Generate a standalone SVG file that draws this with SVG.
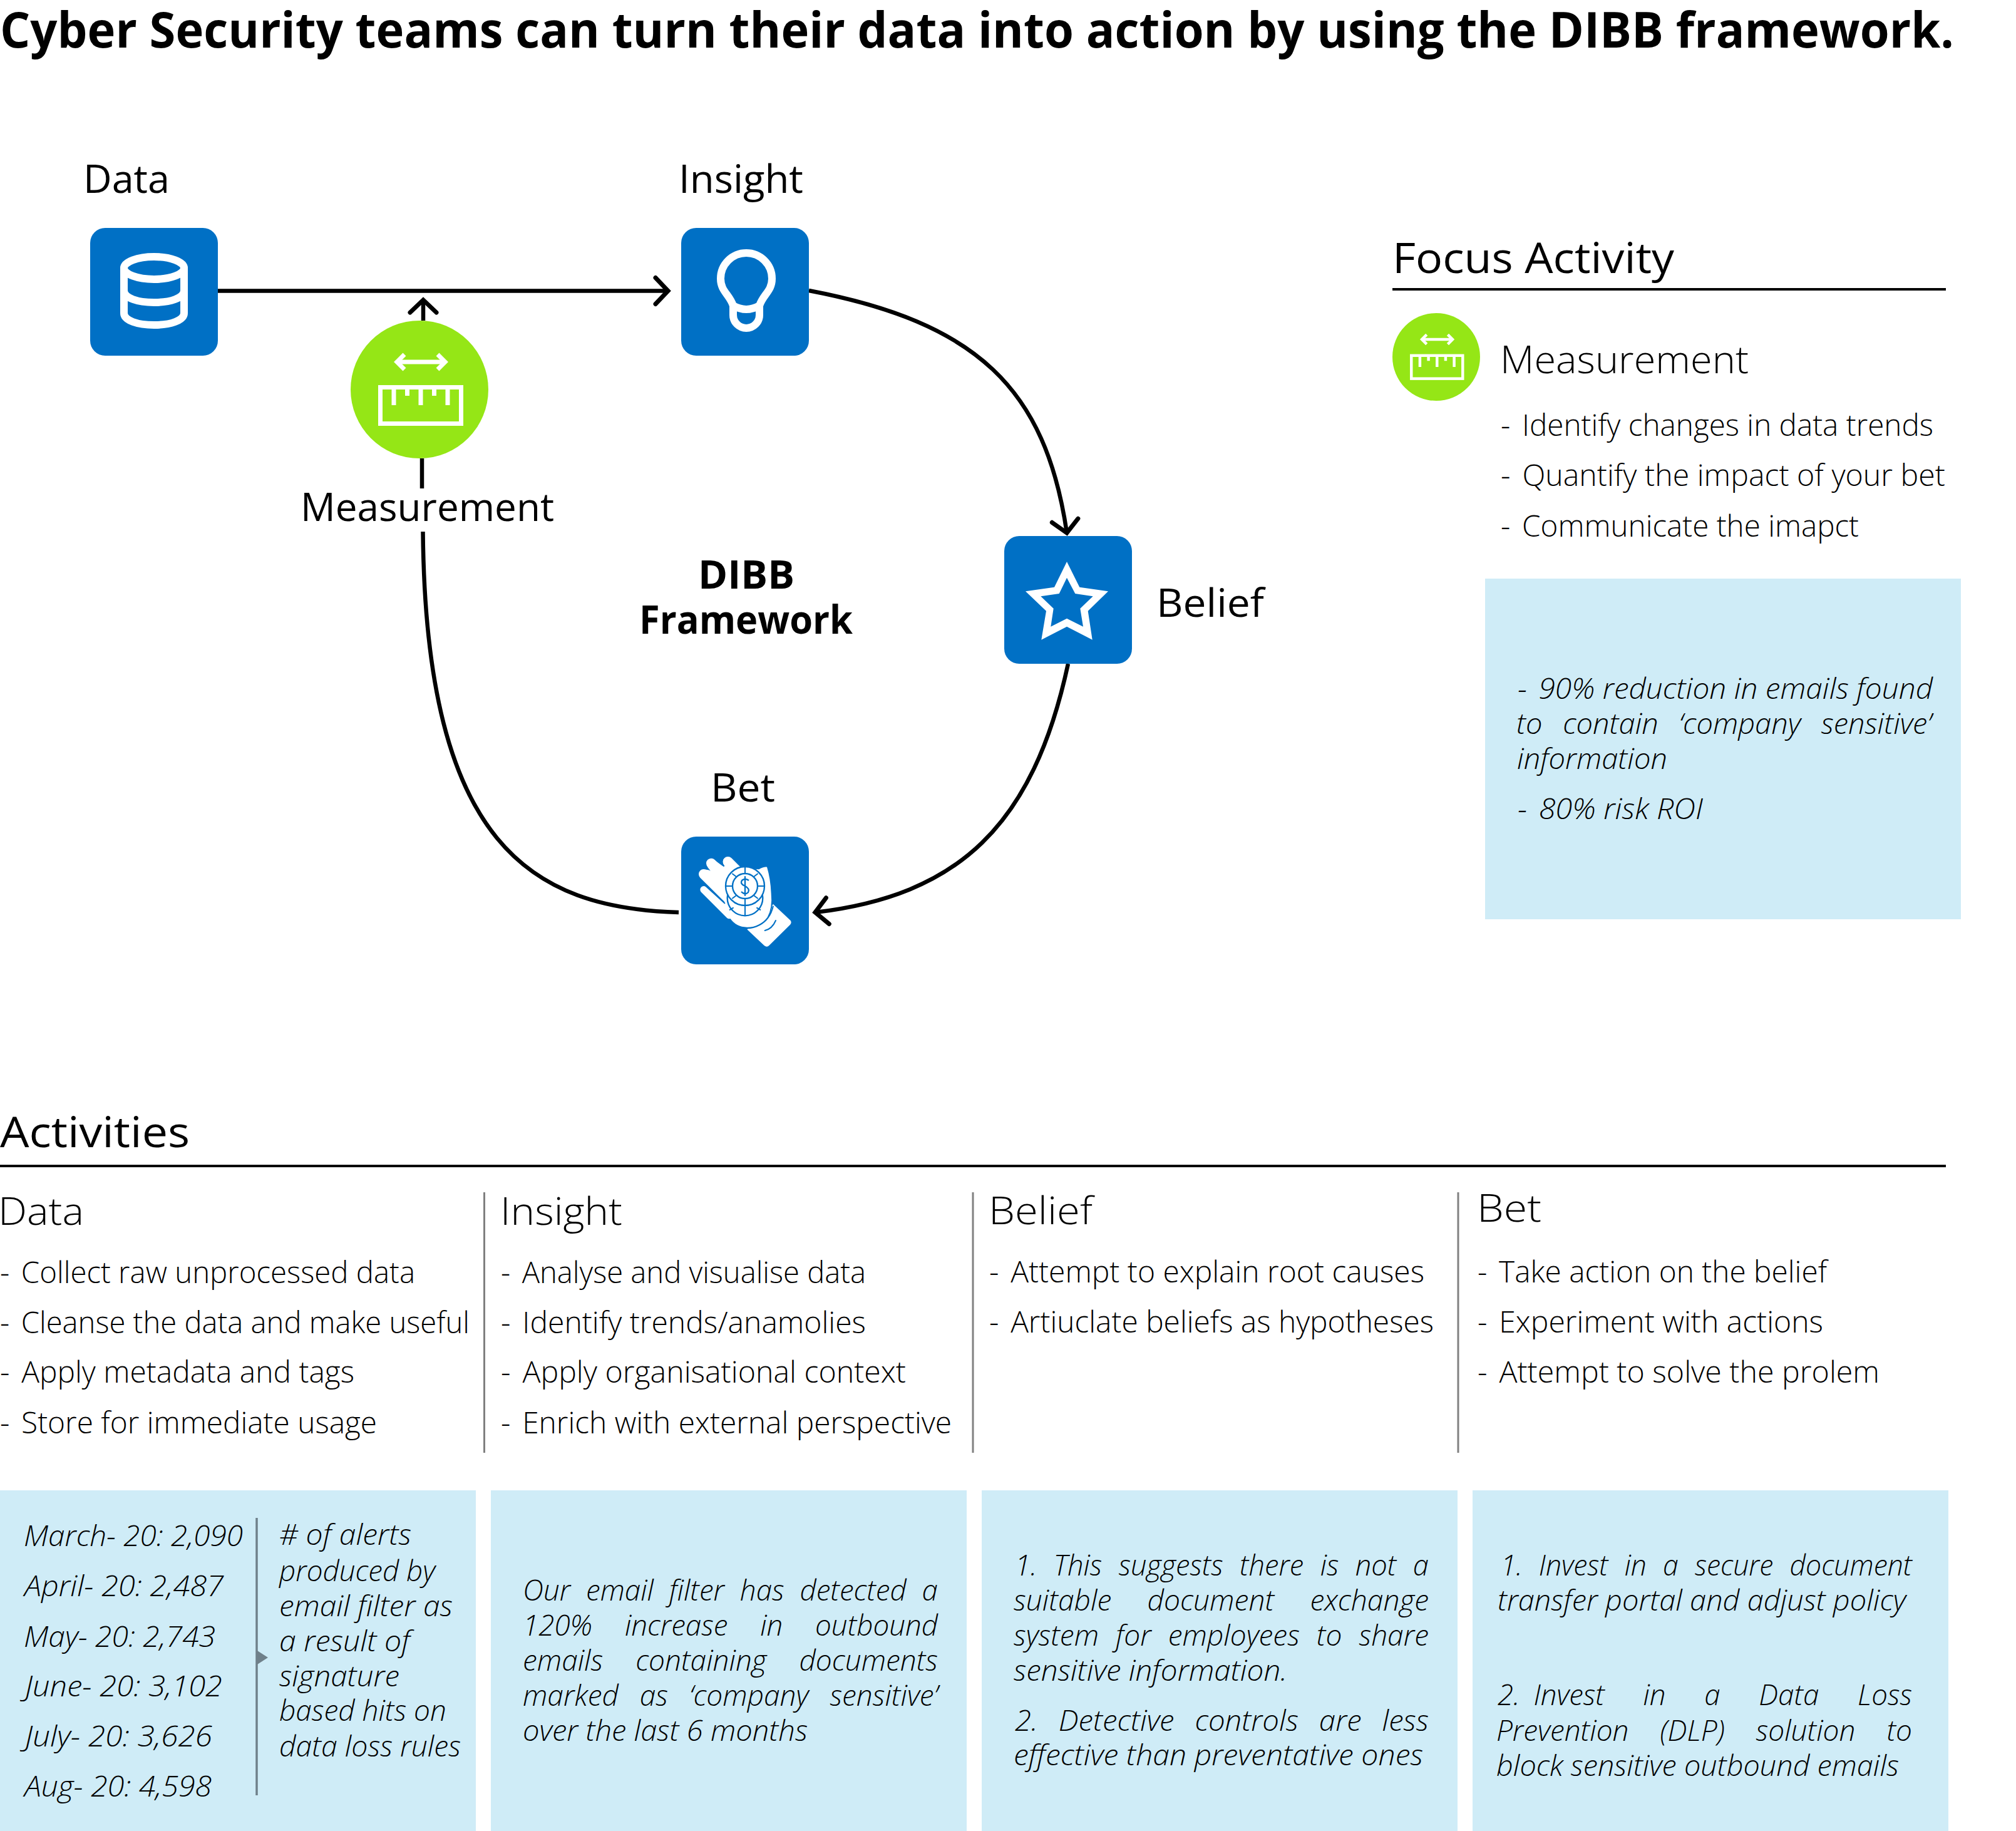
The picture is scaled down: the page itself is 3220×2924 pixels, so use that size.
<svg xmlns="http://www.w3.org/2000/svg" width="3220" height="2924" viewBox="0 0 3220 2924">
<style>
text{font-family:"Open Sans","Noto Sans","Liberation Sans",sans-serif;fill:#000;white-space:pre;font-weight:300}
.title{font-size:78px;font-weight:700}
.bold{font-size:62px;font-weight:700}
.lab{font-size:62px;font-weight:400}
.h1{font-size:68px;font-weight:400}
.h2{font-size:60px}
.it{font-size:47px}
.em{font-size:46px;font-style:italic}
.d{letter-spacing:-2px}
.tile{fill:#0070c5}
.disc{fill:#95e616}
.panel{fill:#cfecf7}
.rule{stroke:#000;stroke-width:4;fill:none}
.div{stroke:#808080;stroke-width:3;fill:none}
.ic{fill:none;stroke:#fff;stroke-width:12;stroke-linecap:round;stroke-linejoin:round}
.con{fill:none;stroke:#000;stroke-width:6.5}
.arr{marker-end:url(#chev)}
</style>
<defs>
<marker id="chev" markerUnits="userSpaceOnUse" markerWidth="50" markerHeight="60" viewBox="-30 -30 40 60" refX="0" refY="0" orient="auto">
<path d="M-20 -21L0 0L-20 21" fill="none" stroke="#000" stroke-width="7" stroke-linecap="round"/>
</marker>
<g id="ruler" fill="none" stroke="#fff" stroke-width="7">
<rect x="607.5" y="618.5" width="129" height="58"/>
<path d="M629 620V647M650.500 620V632M672 620V647M693.500 620V632M715 620V647"/>
<path d="M635 578H710"/>
<path d="M646 566L634 578L646 590M699 566L711 578L699 590" stroke-width="7"/>
</g>
</defs>
<rect width="3220" height="2924" fill="#fff"/>
<text id="title" class="title" x="0" y="76" textLength="3121" lengthAdjust="spacingAndGlyphs">Cyber Security teams can turn their data into action by using the DIBB framework.</text>
<g id="connectors">
<path class="con arr" d="M348 464.500H1067"/>
<path class="con arr" d="M1292 464C1560 515 1670 620 1704 851"/>
<path class="con arr" d="M1706 1060C1650 1320 1530 1430 1302 1457"/>
<path class="con" d="M1084 1457C850 1450 680 1350 675.500 849"/>
<path class="con" d="M674 732V780"/>
<path class="con arr" d="M676 512V479"/>
</g>
<g id="node-data">
<text class="lab" x="133" y="308" textLength="138" lengthAdjust="spacingAndGlyphs">Data</text>
<rect class="tile" x="144" y="364" width="204" height="204" rx="24"/>
<g class="ic"><ellipse cx="246" cy="428" rx="48" ry="18"/><path d="M198 428V500C198 512 220 519 246 519C272 519 294 512 294 500V428M198 464C198 476 220 483 246 483C272 483 294 476 294 464"/></g>
</g>
<g id="node-insight">
<text class="lab" x="1084" y="308" textLength="199" lengthAdjust="spacingAndGlyphs">Insight</text>
<rect class="tile" x="1088" y="364" width="204" height="204" rx="24"/>
<path class="ic" stroke-width="13" d="M1171 488C1165 470 1151 465 1151 445A41 41 0 0 1 1233 445C1233 465 1219 470 1213 488M1171 488V503A21 21 0 0 0 1213 503V488M1171 488Q1192 500 1213 488"/>
</g>
<g id="node-belief">
<rect class="tile" x="1604" y="856" width="204" height="204" rx="24"/>
<path fill="#fff" fill-rule="evenodd" d="M1704 897L1724.300 937.700L1770 944.300L1737.700 975.700L1744.700 1021.700L1704 1000.700L1663.300 1021.700L1671 975.700L1638 944.300L1684 937.700ZM1704 922.700L1691.700 948L1662.300 952.300L1682.700 971.700L1678.300 1000.700L1704 987.700L1730 1000.700L1725.300 971.700L1745.700 952.300L1717.300 948Z"/>
<text class="lab" x="1847" y="985" textLength="172" lengthAdjust="spacingAndGlyphs">Belief</text>
</g>
<g id="node-bet">
<text class="lab" x="1135" y="1280" textLength="103" lengthAdjust="spacingAndGlyphs">Bet</text>
<rect class="tile" x="1088" y="1336" width="204" height="204" rx="24"/>
<g transform="translate(1050 1300) scale(.33333)">
<path fill="#fff" d="M555 432L638 510Q645 520 636 530L535 630Q525 640 512 630L430 553Z"/>
<path fill="#fff" stroke="#0070c5" stroke-width="6" d="M207 372Q200 350 222 346L345 500Q375 545 430 545Q495 545 530 495Q555 450 548 380Q545 310 527 250Q505 250 485 262L395 255L360 220Q335 195 315 215Q305 235 320 250L280 222Q255 205 238 225Q228 245 245 265Q225 258 205 275Q193 295 210 310L320 420L235 345Q215 340 207 358Z"/>
<path fill="none" stroke="#fff" stroke-width="48" stroke-linecap="round" d="M338 228L400 290M258 236L350 325M222 288L335 400"/>
<path fill="none" stroke="#fff" stroke-width="34" stroke-linecap="round" d="M222 362L345 485"/>
<path fill="none" stroke="#0070c5" stroke-width="6" stroke-linecap="round" d="M232 345L322 427"/>
<path fill="none" stroke="#0070c5" stroke-width="6" d="M555 440Q540 510 480 535Q455 548 430 547"/>
<path fill="none" stroke="#0070c5" stroke-width="6" stroke-linecap="round" d="M515 558Q550 550 567 510"/>
<circle cx="420" cy="402" r="85" fill="#fff" stroke="#0070c5" stroke-width="7"/>
<path fill="none" stroke="#0070c5" stroke-width="6" d="M420 430V487M365 448L345 460M475 448L495 460M370 425Q420 450 470 425"/>
<circle cx="420" cy="345" r="93" fill="#fff" stroke="#0070c5" stroke-width="7"/>
<circle cx="420" cy="345" r="60" fill="#fff" stroke="#0070c5" stroke-width="7"/>
<path fill="none" stroke="#0070c5" stroke-width="6" d="M420 252V285M420 405V438M327 345H360M480 345H513M358 285L378 300M482 285L462 300M358 405L378 390M482 405L462 390"/>
<path fill="none" stroke="#0070c5" stroke-width="7" d="M438 318Q420 305 405 318Q395 335 420 345Q445 358 435 375Q420 390 402 372M420 298V392"/>
</g>
</g>
<g id="node-measurement">
<circle class="disc" cx="670" cy="622" r="110"/>
<use href="#ruler"/>
<text class="lab" x="480" y="832" textLength="405" lengthAdjust="spacingAndGlyphs">Measurement</text>
</g>
<g id="framework-label">
<text class="bold" x="1115" y="940" textLength="154" lengthAdjust="spacingAndGlyphs">DIBB</text>
<text class="bold" x="1021" y="1012" textLength="341" lengthAdjust="spacingAndGlyphs">Framework</text>
</g>
<g id="focus-activity">
<text class="h1" x="2224" y="436" textLength="450" lengthAdjust="spacingAndGlyphs">Focus Activity</text>
<path class="rule" d="M2224 462H3108"/>
<circle class="disc" cx="2294" cy="570" r="70"/>
<use href="#ruler" transform="translate(2294 570) scale(.636) translate(-670 -622)"/>
<text class="h2" x="2396" y="596" textLength="397" lengthAdjust="spacingAndGlyphs">Measurement</text>
<text class="it" x="2397" y="696" textLength="691" lengthAdjust="spacingAndGlyphs"><tspan class="d">-  </tspan>Identify changes in data trends</text>
<text class="it" x="2397" y="776" textLength="710" lengthAdjust="spacingAndGlyphs"><tspan class="d">-  </tspan>Quantify the impact of your bet</text>
<text class="it" x="2397" y="857" textLength="572" lengthAdjust="spacingAndGlyphs"><tspan class="d">-  </tspan>Communicate the imapct</text>
<rect class="panel" x="2372" y="924" width="760" height="544"/>
<text class="em" x="2424" y="1116" textLength="663" lengthAdjust="spacingAndGlyphs"><tspan class="d">-  </tspan>90% reduction in emails found</text>
<text class="em" x="2422" y="1172" textLength="663" lengthAdjust="spacingAndGlyphs" word-spacing="20">to contain ‘company sensitive’</text>
<text class="em" x="2423" y="1228" textLength="240" lengthAdjust="spacingAndGlyphs">information</text>
<text class="em" x="2424" y="1308" textLength="296" lengthAdjust="spacingAndGlyphs"><tspan class="d">-  </tspan>80% risk ROI</text>
</g>
<g id="activities">
<text class="h1" x="0" y="1832" textLength="303" lengthAdjust="spacingAndGlyphs">Activities</text>
<path class="rule" d="M0 1862H3108"/>
<path class="div" d="M773.500 1904V2320M1554 1904V2320M2329 1904V2320"/>
<g id="col-data">
<text class="h2" x="-3" y="1956" textLength="137" lengthAdjust="spacingAndGlyphs">Data</text>
<text class="it" x="0" y="2049" textLength="663" lengthAdjust="spacingAndGlyphs"><tspan class="d">-  </tspan>Collect raw unprocessed data</text>
<text class="it" x="0" y="2129" textLength="750" lengthAdjust="spacingAndGlyphs"><tspan class="d">-  </tspan>Cleanse the data and make useful</text>
<text class="it" x="0" y="2208" textLength="566" lengthAdjust="spacingAndGlyphs"><tspan class="d">-  </tspan>Apply metadata and tags</text>
<text class="it" x="0" y="2289" textLength="602" lengthAdjust="spacingAndGlyphs"><tspan class="d">-  </tspan>Store for immediate usage</text>
</g>
<g id="col-insight">
<text class="h2" x="799" y="1956" textLength="195" lengthAdjust="spacingAndGlyphs">Insight</text>
<text class="it" x="800" y="2049" textLength="583" lengthAdjust="spacingAndGlyphs"><tspan class="d">-  </tspan>Analyse and visualise data</text>
<text class="it" x="800" y="2129" textLength="583" lengthAdjust="spacingAndGlyphs"><tspan class="d">-  </tspan>Identify trends/anamolies</text>
<text class="it" x="800" y="2208" textLength="647" lengthAdjust="spacingAndGlyphs"><tspan class="d">-  </tspan>Apply organisational context</text>
<text class="it" x="800" y="2289" textLength="720" lengthAdjust="spacingAndGlyphs"><tspan class="d">-  </tspan>Enrich with external perspective</text>
</g>
<g id="col-belief">
<text class="h2" x="1579" y="1955" textLength="166" lengthAdjust="spacingAndGlyphs">Belief</text>
<text class="it" x="1580" y="2048" textLength="695" lengthAdjust="spacingAndGlyphs"><tspan class="d">-  </tspan>Attempt to explain root causes</text>
<text class="it" x="1580" y="2128" textLength="710" lengthAdjust="spacingAndGlyphs"><tspan class="d">-  </tspan>Artiuclate beliefs as hypotheses</text>
</g>
<g id="col-bet">
<text class="h2" x="2359" y="1951" textLength="103" lengthAdjust="spacingAndGlyphs">Bet</text>
<text class="it" x="2360" y="2048" textLength="558" lengthAdjust="spacingAndGlyphs"><tspan class="d">-  </tspan>Take action on the belief</text>
<text class="it" x="2360" y="2128" textLength="552" lengthAdjust="spacingAndGlyphs"><tspan class="d">-  </tspan>Experiment with actions</text>
<text class="it" x="2360" y="2208" textLength="642" lengthAdjust="spacingAndGlyphs"><tspan class="d">-  </tspan>Attempt to solve the prolem</text>
</g>
</g>
<g id="panel-data">
<rect class="panel" x="0" y="2380" width="760" height="544"/>
<text class="em" x="38" y="2469" textLength="350" lengthAdjust="spacingAndGlyphs">March- 20: 2,090</text>
<text class="em" x="39" y="2549" textLength="318" lengthAdjust="spacingAndGlyphs">April- 20: 2,487</text>
<text class="em" x="38" y="2630" textLength="306" lengthAdjust="spacingAndGlyphs">May- 20: 2,743</text>
<text class="em" x="40" y="2709" textLength="315" lengthAdjust="spacingAndGlyphs">June- 20: 3,102</text>
<text class="em" x="40" y="2789" textLength="299" lengthAdjust="spacingAndGlyphs">July- 20: 3,626</text>
<text class="em" x="39" y="2869" textLength="299" lengthAdjust="spacingAndGlyphs">Aug- 20: 4,598</text>
<path d="M410 2424V2867" fill="none" stroke="#6f808a" stroke-width="3.500"/>
<path d="M411 2636L428 2647L411 2658Z" fill="#6f808a"/>
<text class="em" x="446" y="2467" textLength="211" lengthAdjust="spacingAndGlyphs"># of alerts</text>
<text class="em" x="446" y="2525" textLength="249" lengthAdjust="spacingAndGlyphs">produced by</text>
<text class="em" x="446" y="2581" textLength="277" lengthAdjust="spacingAndGlyphs">email filter as</text>
<text class="em" x="446" y="2637" textLength="209" lengthAdjust="spacingAndGlyphs">a result of</text>
<text class="em" x="446" y="2693" textLength="192" lengthAdjust="spacingAndGlyphs">signature</text>
<text class="em" x="446" y="2748" textLength="267" lengthAdjust="spacingAndGlyphs">based hits on</text>
<text class="em" x="446" y="2805" textLength="290" lengthAdjust="spacingAndGlyphs">data loss rules</text>
</g>
<g id="panel-insight">
<rect class="panel" x="784" y="2380" width="760" height="544"/>
<text class="em" x="835" y="2556" textLength="663" lengthAdjust="spacingAndGlyphs" word-spacing="13">Our email filter has detected a</text>
<text class="em" x="835" y="2612" textLength="663" lengthAdjust="spacingAndGlyphs" word-spacing="40">120% increase in outbound</text>
<text class="em" x="835" y="2668" textLength="663" lengthAdjust="spacingAndGlyphs" word-spacing="40">emails containing documents</text>
<text class="em" x="835" y="2724" textLength="663" lengthAdjust="spacingAndGlyphs" word-spacing="22">marked as ‘company sensitive’</text>
<text class="em" x="835" y="2780" textLength="455" lengthAdjust="spacingAndGlyphs">over the last 6 months</text>
</g>
<g id="panel-belief">
<rect class="panel" x="1568" y="2380" width="760" height="544"/>
<text class="em" x="1621" y="2516" textLength="661" lengthAdjust="spacingAndGlyphs" word-spacing="15">1. This suggests there is not a</text>
<text class="em" x="1619" y="2572" textLength="663" lengthAdjust="spacingAndGlyphs" word-spacing="45">suitable document exchange</text>
<text class="em" x="1619" y="2628" textLength="663" lengthAdjust="spacingAndGlyphs" word-spacing="15">system for employees to share</text>
<text class="em" x="1619" y="2684" textLength="437" lengthAdjust="spacingAndGlyphs">sensitive information.</text>
<text class="em" x="1621" y="2764" textLength="661" lengthAdjust="spacingAndGlyphs" word-spacing="20">2. Detective controls are less</text>
<text class="em" x="1619" y="2819" textLength="654" lengthAdjust="spacingAndGlyphs">effective than preventative ones</text>
</g>
<g id="panel-bet">
<rect class="panel" x="2352" y="2380" width="760" height="544"/>
<text class="em" x="2397" y="2516" textLength="657" lengthAdjust="spacingAndGlyphs" word-spacing="15">1. Invest in a secure document</text>
<text class="em" x="2392" y="2572" textLength="652" lengthAdjust="spacingAndGlyphs">transfer portal and adjust policy</text>
<text class="em" x="2392" y="2723" textLength="662" lengthAdjust="spacingAndGlyphs" word-spacing="50"><tspan word-spacing="10">2. </tspan>Invest in a Data Loss</text>
<text class="em" x="2390" y="2780" textLength="664" lengthAdjust="spacingAndGlyphs" word-spacing="38">Prevention (DLP) solution to</text>
<text class="em" x="2390" y="2836" textLength="643" lengthAdjust="spacingAndGlyphs">block sensitive outbound emails</text>
</g>
</svg>
